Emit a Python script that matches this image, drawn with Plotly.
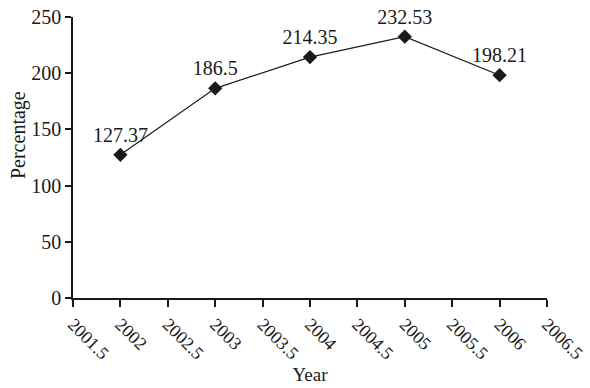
import plotly.graph_objects as go

years = [2002, 2003, 2004, 2005, 2006]
percentage = [127.37, 186.5, 214.35, 232.53, 198.21]
x_ticks = [2001.5, 2002, 2002.5, 2003, 2003.5, 2004, 2004.5, 2005, 2005.5, 2006, 2006.5]
y_ticks = [0, 50, 100, 150, 200, 250]

font_family = "Liberation Serif, Times New Roman, serif"
ink = "#1a1a1a"

fig = go.Figure(
    go.Scatter(
        x=years,
        y=percentage,
        mode="lines+markers+text",
        text=[f"{v:g}" for v in percentage],
        textposition="top center",
        textfont=dict(family=font_family, size=20, color=ink),
        line=dict(color=ink, width=1.2),
        marker=dict(symbol="diamond", size=11, color=ink),
        cliponaxis=False,
        showlegend=False,
    )
)

axis_common = dict(
    showline=True,
    linecolor=ink,
    linewidth=1.5,
    ticks="outside",
    tickcolor=ink,
    tickwidth=1.5,
    showgrid=False,
    zeroline=False,
    automargin=False,
    ticklabeloverflow="allow",
)

fig.update_xaxes(
    range=[2001.5, 2006.5],
    tickvals=x_ticks,
    ticktext=[f"{t:g}" for t in x_ticks],
    tickangle=45,
    ticklen=7,
    tickfont=dict(family=font_family, size=18, color=ink),
    title=dict(text="Year", font=dict(family=font_family, size=19, color=ink), standoff=0),
    **axis_common,
)
fig.update_yaxes(
    range=[0, 250],
    tickvals=y_ticks,
    ticklen=6,
    tickfont=dict(family=font_family, size=20, color=ink),
    **axis_common,
)

# y-axis caption, set a little above the axis midpoint
fig.add_annotation(
    text="Percentage",
    xref="paper", yref="paper",
    x=-0.116, y=0.58,
    xanchor="center", yanchor="middle",
    textangle=-90,
    showarrow=False,
    font=dict(family=font_family, size=20, color=ink),
)

fig.update_layout(
    width=590,
    height=388,
    margin=dict(l=73, r=43, t=17, b=90),
    plot_bgcolor="white",
    paper_bgcolor="white",
)

fig.write_html("out.html")
